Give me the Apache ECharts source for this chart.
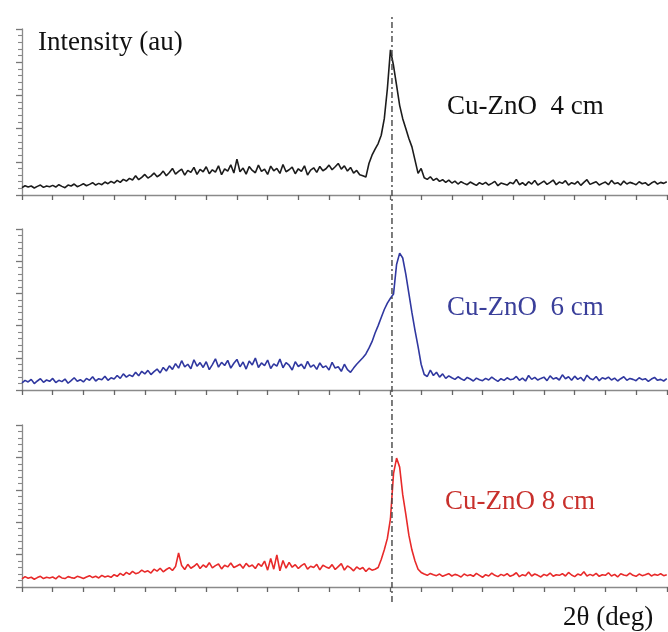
<!DOCTYPE html>
<html>
<head>
<meta charset="utf-8">
<script src="https://cdn.jsdelivr.net/npm/echarts@6/dist/echarts.min.js"></script>
<style>
html,body{margin:0;padding:0;background:#fff;}
#chart{width:668px;height:632px;}
</style>
</head>
<body>
<div id="chart"></div>
<script>
// 2θ sampling grid (deg)
var thetaStart = 20, thetaStep = 0.1, thetaMin = 20, thetaMax = 41.04, tickStep = 1;
var peakLineX = 32.05;

var seriesNames = ['Cu-ZnO  4 cm', 'Cu-ZnO  6 cm', 'Cu-ZnO 8 cm'];
var yLabel = 'Intensity (au)';
var xLabel = '2θ (deg)';

var cm4 = [
0.22,0.28,0.24,0.27,0.21,0.26,0.30,0.23,0.27,0.25,
0.29,0.24,0.31,0.26,0.22,0.30,0.27,0.33,0.25,0.29,
0.34,0.28,0.32,0.37,0.30,0.35,0.31,0.39,0.34,0.41,
0.36,0.44,0.38,0.47,0.42,0.50,0.45,0.58,0.46,0.53,
0.62,0.51,0.57,0.66,0.55,0.61,0.72,0.58,0.68,0.80,
0.63,0.71,0.78,0.60,0.74,0.68,0.83,0.62,0.77,0.70,
0.85,0.64,0.76,0.69,0.88,0.61,0.79,0.72,0.91,0.66,
1.08,0.70,0.81,0.63,0.86,0.74,0.67,0.90,0.71,0.78,
0.62,0.87,0.73,0.80,0.65,0.92,0.70,0.76,0.84,0.64,
0.79,0.71,0.88,0.60,0.75,0.82,0.68,0.86,0.73,0.79,
0.90,0.76,0.85,0.95,0.78,0.88,0.72,0.83,0.66,0.74,
0.61,0.58,0.54,0.95,1.20,1.38,1.55,1.80,2.30,3.20,
4.37,3.90,3.30,2.70,2.30,2.00,1.70,1.45,1.05,0.65,
0.80,0.52,0.47,0.55,0.44,0.50,0.41,0.46,0.38,0.45,
0.36,0.42,0.33,0.40,0.35,0.31,0.39,0.34,0.29,0.37,
0.32,0.38,0.30,0.35,0.41,0.28,0.36,0.33,0.30,0.38,
0.34,0.47,0.31,0.37,0.29,0.40,0.33,0.44,0.30,0.36,
0.42,0.32,0.38,0.45,0.31,0.39,0.35,0.43,0.30,0.37,
0.33,0.41,0.29,0.38,0.46,0.32,0.36,0.40,0.30,0.35,
0.39,0.31,0.44,0.34,0.37,0.30,0.42,0.33,0.38,0.35,
0.31,0.40,0.34,0.37,0.29,0.36,0.41,0.33,0.38,0.35,0.40
];

var cm6 = [
0.22,0.30,0.25,0.33,0.20,0.28,0.35,0.24,0.31,0.27,
0.36,0.23,0.30,0.26,0.34,0.21,0.29,0.38,0.27,0.32,
0.25,0.36,0.30,0.41,0.28,0.35,0.32,0.43,0.30,0.38,
0.34,0.45,0.36,0.50,0.40,0.47,0.42,0.55,0.44,0.58,
0.50,0.61,0.48,0.57,0.65,0.53,0.70,0.59,0.75,0.64,
0.82,0.68,0.91,0.72,0.80,0.66,0.94,0.74,0.85,0.70,
0.88,0.63,0.79,0.97,0.71,0.86,0.76,0.92,0.68,0.83,
0.95,0.72,0.87,0.65,0.90,0.78,0.99,0.70,0.84,0.76,
0.93,0.67,0.81,0.74,0.96,0.69,0.85,0.77,0.62,0.88,
0.73,0.80,0.66,0.89,0.71,0.78,0.64,0.84,0.70,0.75,
0.62,0.86,0.68,0.72,0.58,0.80,0.63,0.55,0.68,0.80,
0.90,1.00,1.12,1.30,1.50,1.77,2.00,2.25,2.50,2.70,
2.85,2.98,3.90,4.25,4.10,3.60,3.00,2.40,1.85,1.35,
0.80,0.48,0.42,0.62,0.45,0.55,0.40,0.50,0.36,0.44,
0.38,0.33,0.41,0.35,0.30,0.39,0.34,0.28,0.37,0.32,
0.29,0.36,0.31,0.40,0.33,0.27,0.35,0.30,0.38,0.32,
0.34,0.42,0.30,0.37,0.28,0.45,0.33,0.39,0.31,0.36,
0.40,0.29,0.44,0.34,0.38,0.31,0.47,0.35,0.41,0.30,
0.43,0.33,0.39,0.28,0.46,0.36,0.32,0.42,0.29,0.38,
0.34,0.40,0.31,0.37,0.28,0.35,0.41,0.30,0.36,0.33,
0.29,0.38,0.32,0.35,0.27,0.34,0.39,0.30,0.33,0.28,0.35
];

var cm8 = [
0.25,0.32,0.27,0.30,0.24,0.29,0.33,0.26,0.30,0.28,
0.31,0.25,0.34,0.28,0.26,0.32,0.29,0.27,0.33,0.30,
0.26,0.31,0.35,0.29,0.33,0.28,0.36,0.31,0.34,0.30,
0.38,0.33,0.42,0.36,0.45,0.39,0.48,0.41,0.44,0.52,
0.46,0.50,0.43,0.55,0.49,0.58,0.47,0.54,0.60,0.51,
0.63,1.05,0.66,0.54,0.70,0.58,0.64,0.72,0.57,0.68,
0.61,0.75,0.59,0.66,0.71,0.56,0.67,0.62,0.74,0.60,
0.65,0.70,0.58,0.73,0.63,0.68,0.57,0.72,0.64,0.80,
0.52,0.88,0.55,0.99,0.50,0.82,0.58,0.76,0.61,0.69,
0.57,0.66,0.72,0.55,0.64,0.60,0.70,0.53,0.67,0.62,
0.58,0.69,0.54,0.63,0.72,0.52,0.65,0.59,0.50,0.62,
0.55,0.60,0.48,0.58,0.52,0.55,0.60,0.85,1.15,1.50,
2.10,3.50,3.98,3.70,2.85,2.25,1.60,1.14,0.80,0.55,
0.45,0.40,0.36,0.42,0.38,0.35,0.40,0.33,0.37,0.41,
0.34,0.39,0.36,0.31,0.40,0.35,0.38,0.33,0.42,0.36,
0.30,0.38,0.34,0.43,0.36,0.32,0.39,0.35,0.41,0.33,
0.37,0.44,0.32,0.38,0.35,0.46,0.34,0.40,0.36,0.31,
0.39,0.35,0.43,0.33,0.38,0.36,0.41,0.34,0.45,0.37,
0.32,0.40,0.36,0.47,0.34,0.39,0.35,0.42,0.33,0.38,
0.36,0.44,0.34,0.39,0.31,0.41,0.37,0.35,0.43,0.36,
0.33,0.40,0.35,0.38,0.42,0.34,0.39,0.36,0.41,0.35,0.38
];

var lineColors = ['#1c1c1c', '#3038a0', '#e82a2a'];
var textColors = ['#111111', '#3a3f9a', '#c8302c'];

function pairs(vals) {
  return vals.map(function (v, i) {
    return [Math.round((thetaStart + i * thetaStep) * 100) / 100, v];
  });
}

var grids = [
  {left: 22, right: 0, top: 29, height: 166},
  {left: 22, right: 0, top: 229, height: 161},
  {left: 22, right: 0, top: 425, height: 162},
  {left: 22, right: 0, top: 15, height: 587}
];

function xAx(i) {
  return {
    type: 'value', gridIndex: i, min: thetaMin, max: thetaMax, interval: tickStep,
    axisLine: {show: true, lineStyle: {color: '#8a8a8a', width: 1.3}},
    axisTick: {show: true, inside: false, length: 5, lineStyle: {color: '#666', width: 1.3}},
    axisLabel: {show: false},
    splitLine: {show: false}
  };
}
function yAx(i) {
  return {
    type: 'value', gridIndex: i, min: 0, max: 5, interval: 1,
    axisLine: {show: true, lineStyle: {color: '#8a8a8a', width: 1.3}},
    axisTick: {show: true, inside: false, length: 6, lineStyle: {color: '#777', width: 1.3}},
    minorTick: {show: true, splitNumber: 5, length: 4, lineStyle: {color: '#888', width: 1.1}},
    axisLabel: {show: false},
    splitLine: {show: false}
  };
}

var chart = echarts.init(document.getElementById('chart'), null, {renderer: 'canvas'});
var data = [cm4, cm6, cm8];
var series = data.map(function (d, k) {
  return {
    type: 'line', xAxisIndex: k, yAxisIndex: k, data: pairs(d),
    showSymbol: false, symbol: 'none',
    lineStyle: {color: lineColors[k], width: 1.6},
    silent: true
  };
});
series.push({
  type: 'line', xAxisIndex: 3, yAxisIndex: 3,
  data: [[peakLineX, 0], [peakLineX, 1]],
  symbol: 'none', silent: true,
  lineStyle: {color: '#444', width: 1.4, type: [6, 3, 2, 3]}
});

var font = '27px "Liberation Serif", "Times New Roman", serif';
chart.setOption({
  animation: false,
  backgroundColor: '#ffffff',
  grid: grids,
  xAxis: [xAx(0), xAx(1), xAx(2), {type: 'value', gridIndex: 3, min: thetaMin, max: thetaMax, show: false}],
  yAxis: [yAx(0), yAx(1), yAx(2), {type: 'value', gridIndex: 3, min: 0, max: 1, show: false}],
  series: series,
  graphic: [
    {type: 'text', x: 38, y: 43, style: {text: yLabel, font: font, fill: '#111', verticalAlign: 'middle'}},
    {type: 'text', x: 447, y: 107, style: {text: seriesNames[0], font: font, fill: textColors[0], verticalAlign: 'middle'}},
    {type: 'text', x: 447, y: 308, style: {text: seriesNames[1], font: font, fill: textColors[1], verticalAlign: 'middle'}},
    {type: 'text', x: 445, y: 502, style: {text: seriesNames[2], font: font, fill: textColors[2], verticalAlign: 'middle'}},
    {type: 'text', x: 563, y: 618, style: {text: xLabel, font: font, fill: '#111', verticalAlign: 'middle'}}
  ]
});
</script>
</body>
</html>
